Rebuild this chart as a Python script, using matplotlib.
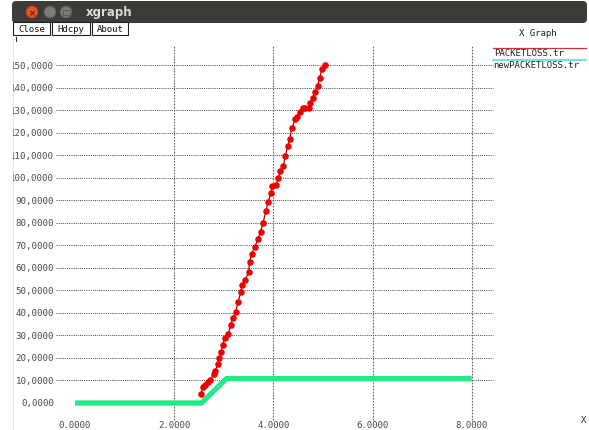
import numpy as np
from matplotlib import pyplot as plt
from matplotlib.patches import Rectangle, Circle, FancyBboxPatch
from matplotlib.transforms import Bbox

# PACKETLOSS.tr
loss_x = [2.54, 2.58, 2.63, 2.68, 2.73, 2.80, 2.82, 2.89, 2.90, 2.94, 2.98, 3.02,
          3.09, 3.14, 3.18, 3.24, 3.29, 3.34, 3.37, 3.43, 3.50, 3.52, 3.56, 3.62,
          3.69, 3.74, 3.79, 3.85, 3.89, 3.95, 3.98, 4.05, 4.10, 4.14, 4.20, 4.24,
          4.29, 4.33, 4.37, 4.44, 4.47, 4.53, 4.59, 4.64, 4.71, 4.74, 4.79, 4.84,
          4.89, 4.93, 4.98, 5.05]
loss_y = [4.0, 7.2, 8.0, 9.5, 10.4, 12.9, 14.3, 17.3, 19.8, 22.5, 25.9, 28.8,
          30.6, 34.6, 37.6, 40.5, 45.0, 49.1, 52.5, 54.7, 58.0, 62.7, 66.1, 69.1,
          72.8, 76.0, 79.9, 85.1, 89.1, 93.1, 96.2, 96.9, 99.7, 102.8, 105.0, 109.8,
          113.9, 117.2, 121.9, 126.0, 127.1, 129.3, 130.9, 130.9, 130.9, 133.0, 135.2, 138.2,
          140.8, 144.1, 148.2, 150.0]

# newPACKETLOSS.tr
new_x = [0.0, 2.55, 3.05, 8.0]
new_y = [0.0, 0.0, 10.8, 10.8]

x_ticks = [0.0, 2.0, 4.0, 6.0, 8.0]
y_ticks = [0, 10, 20, 30, 40, 50, 60, 70, 80, 90, 100, 110, 120, 130, 140, 150]
series_names = ['PACKETLOSS.tr', 'newPACKETLOSS.tr']

W, H = 589, 431
# pixel position of the data origin and scale
x0_px, x_scale = 75.0, 49.6
y0_px, y_scale = 404.0, 2.2533

fig = plt.figure(figsize=(W / 100, H / 100), dpi=100)
fig.patch.set_facecolor('white')

# window decoration, in pixel coords
deco = fig.add_axes([0, 0, 1, 1])
deco.set_xlim(0, W)
deco.set_ylim(H, 0)
deco.axis('off')

deco.add_patch(FancyBboxPatch((12, 2), W - 14, 22, boxstyle='round,pad=0,rounding_size=4',
                              facecolor='#3c3b37', edgecolor='none'))
deco.add_patch(Rectangle((12, 12), W - 14, 8, facecolor='white', edgecolor='none'))
deco.add_patch(Rectangle((12, 10), W - 14, 10, facecolor='#3c3b37', edgecolor='none'))
deco.add_patch(Circle((32, 13), 6, facecolor='#e8542b', edgecolor='#a83a1c', lw=0.6))
deco.text(32, 13.5, '×', color='#5a1a0a', fontsize=6, ha='center', va='center',
          fontweight='bold')
deco.add_patch(Circle((50, 13), 6, facecolor='#7c7b76', edgecolor='#55544f', lw=0.6))
deco.add_patch(Circle((66, 13), 6, facecolor='#7c7b76', edgecolor='#55544f', lw=0.6))
deco.add_patch(Rectangle((62.5, 10.5), 7, 5, facecolor='none', edgecolor='#55544f', lw=0.6))
deco.text(86, 12.5, 'xgraph', color='#dfdbd2', fontsize=8.5, fontweight='bold',
          ha='left', va='center', family='DejaVu Sans')

for bx, bw, label in [(13, 37, 'Close'), (52, 38, 'Hdcpy'), (92, 36, 'About')]:
    deco.add_patch(Rectangle((bx, 23), bw, 13, facecolor='white', edgecolor='#222222', lw=0.8))
    deco.text(bx + bw / 2, 29.8, label, fontsize=6.5, family='DejaVu Sans Mono',
              ha='center', va='center', color='#111111')
deco.plot([16, 16], [38, 42], color='#333333', lw=0.8)
deco.plot([12.5, 12.5], [40, H], color='#e6e6e6', lw=0.8)

# data area
ax = fig.add_axes([0, 0, 1, 1])
ax.patch.set_alpha(0)
ax.set_xlim(-x0_px / x_scale, (W - x0_px) / x_scale)
ax.set_ylim((y0_px - H) / y_scale, y0_px / y_scale)
ax.axis('off')

def px_x(p):
    return (p - x0_px) / x_scale

def px_y(p):
    return (y0_px - p) / y_scale

ax.hlines(y_ticks[1:], px_x(56), px_x(493), colors='#444444', linestyles=(0, (1, 1.2)), lw=0.7)
ax.vlines(x_ticks[1:], px_y(421), px_y(46), colors='#666666', linestyles=(0, (1.5, 1.2)), lw=0.8)

# labels are cut off at the window's left border
window_clip = Bbox([[13, 0], [W, H]])
for yv in y_ticks:
    t = ax.text(px_x(54), yv, '%d,0000' % yv, ha='right', va='center', fontsize=6.6,
                family='DejaVu Sans Mono', color='#4a4a4a')
    t.set_clip_box(window_clip)
    t.set_clip_on(True)
for xv in x_ticks:
    ax.text(xv, px_y(426), '%.4f' % xv, ha='center', va='center', fontsize=6.5,
            family='DejaVu Sans Mono', color='#4a4a4a')

ax.plot(new_x, new_y, color='#22ea86', lw=3.8, solid_capstyle='butt', zorder=3)
ax.plot(loss_x, loss_y, color='#a00000', lw=0.9, marker='o', markersize=3.7,
        markerfacecolor='#ee0000', markeredgecolor='#ee0000', zorder=4)

# legend and axis names
deco.text(538, 33, 'X Graph', ha='center', va='center', fontsize=6.5,
          family='DejaVu Sans Mono', color='#222222')
deco.plot([493, 586], [48.5, 48.5], color='#d03030', lw=0.9)
deco.text(494, 53.5, series_names[0], ha='left', va='center', fontsize=6.5,
          family='DejaVu Sans Mono', color='#222222')
deco.plot([493, 586], [60.5, 60.5], color='#5fe0c8', lw=1.2)
deco.text(493, 65.5, series_names[1], ha='left', va='center', fontsize=6.5,
          family='DejaVu Sans Mono', color='#222222')
deco.text(584, 421, 'X', ha='center', va='center', fontsize=6.5,
          family='DejaVu Sans Mono', color='#333333')

fig.savefig('out.png', dpi=100)
